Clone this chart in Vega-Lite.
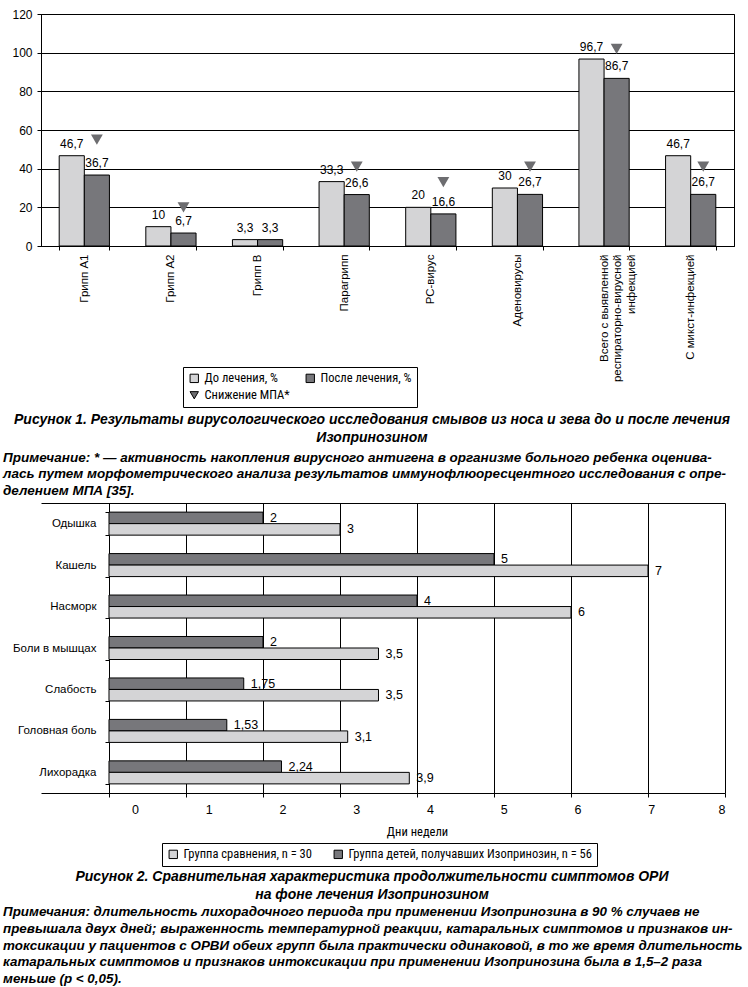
{
  "$schema": "https://vega.github.io/schema/vega-lite/v6.json",
  "background": "white",
  "padding": {"left": 3, "top": 7, "right": 0, "bottom": 0},
  "spacing": 3,
  "resolve": {"scale": {"color": "independent", "shape": "independent"}, "legend": {"color": "independent", "shape": "independent"}},
  "config": {
    "locale": {"number": {"decimal": ",", "thousands": " ", "grouping": [3], "currency": ["", ""]}},
    "font": "Liberation Sans",
    "view": {"stroke": "black", "strokeWidth": 1},
    "axis": {"domainColor": "black", "tickColor": "black", "gridColor": "black", "gridOpacity": 1, "gridWidth": 1, "labelColor": "black", "titleColor": "black", "labelFont": "Liberation Sans", "titleFont": "Liberation Sans Narrow, Noto Sans Condensed, Roboto Condensed, Liberation Sans", "titleFontWeight": "normal", "titleFontSize": 12.5, "labelFontSize": 12, "tickSize": 4},
    "legend": {"labelFont": "Liberation Sans Narrow, Noto Sans Condensed, Roboto Condensed, Liberation Sans", "labelFontSize": 12.5, "labelColor": "black", "strokeColor": "black", "padding": 5, "symbolStrokeColor": "black", "symbolStrokeWidth": 1, "symbolSize": 70, "labelLimit": 300},
    "title": {"font": "Liberation Sans", "fontSize": 14, "fontWeight": "bold", "fontStyle": "italic", "color": "black", "lineHeight": 18}
  },
  "vconcat": [
    {
      "width": 693,
      "height": 232,
      "data": {"values": [
        {"cat": "Грипп А1", "series": "До лечения, %", "grp": "До лечения, %", "value": 46.7},
        {"cat": "Грипп А1", "series": "После лечения, %", "grp": "После лечения, %", "value": 36.7},
        {"cat": "Грипп А1", "series": "Снижение МПА*", "grp": "После лечения, %", "value": 55},
        {"cat": "Грипп А2", "series": "До лечения, %", "grp": "До лечения, %", "value": 10},
        {"cat": "Грипп А2", "series": "После лечения, %", "grp": "После лечения, %", "value": 6.7},
        {"cat": "Грипп А2", "series": "Снижение МПА*", "grp": "После лечения, %", "value": 20},
        {"cat": "Грипп В", "series": "До лечения, %", "grp": "До лечения, %", "value": 3.3},
        {"cat": "Грипп В", "series": "После лечения, %", "grp": "После лечения, %", "value": 3.3},
        {"cat": "Парагрипп", "series": "До лечения, %", "grp": "До лечения, %", "value": 33.3},
        {"cat": "Парагрипп", "series": "После лечения, %", "grp": "После лечения, %", "value": 26.6},
        {"cat": "Парагрипп", "series": "Снижение МПА*", "grp": "После лечения, %", "value": 41},
        {"cat": "РС-вирус", "series": "До лечения, %", "grp": "До лечения, %", "value": 20},
        {"cat": "РС-вирус", "series": "После лечения, %", "grp": "После лечения, %", "value": 16.6},
        {"cat": "РС-вирус", "series": "Снижение МПА*", "grp": "После лечения, %", "value": 33},
        {"cat": "Аденовирусы", "series": "До лечения, %", "grp": "До лечения, %", "value": 30},
        {"cat": "Аденовирусы", "series": "После лечения, %", "grp": "После лечения, %", "value": 26.7},
        {"cat": "Аденовирусы", "series": "Снижение МПА*", "grp": "После лечения, %", "value": 41},
        {"cat": "Всего с выявленной респираторно-вирусной инфекцией", "series": "До лечения, %", "grp": "До лечения, %", "value": 96.7},
        {"cat": "Всего с выявленной респираторно-вирусной инфекцией", "series": "После лечения, %", "grp": "После лечения, %", "value": 86.7},
        {"cat": "Всего с выявленной респираторно-вирусной инфекцией", "series": "Снижение МПА*", "grp": "После лечения, %", "value": 102},
        {"cat": "С микст-инфекцией", "series": "До лечения, %", "grp": "До лечения, %", "value": 46.7},
        {"cat": "С микст-инфекцией", "series": "После лечения, %", "grp": "После лечения, %", "value": 26.7},
        {"cat": "С микст-инфекцией", "series": "Снижение МПА*", "grp": "После лечения, %", "value": 41}
      ]},
      "encoding": {
        "x": {
          "field": "cat", "type": "nominal",
          "sort": ["Грипп А1", "Грипп А2", "Грипп В", "Парагрипп", "РС-вирус", "Аденовирусы", "Всего с выявленной респираторно-вирусной инфекцией", "С микст-инфекцией"],
          "scale": {"paddingInner": 0.42, "paddingOuter": 0.21},
          "axis": {"title": null, "labelAngle": -90, "labelFontSize": 11.5, "labelPadding": 4, "tickBand": "extent", "grid": false, "labelLimit": 300,
                   "labelExpr": "indexof(datum.label, 'Всего') == 0 ? ['Всего с выявленной', 'респираторно-вирусной', 'инфекцией'] : datum.label"}
        },
        "xOffset": {"field": "grp", "sort": ["До лечения, %", "После лечения, %"]},
        "y": {
          "field": "value", "type": "quantitative",
          "scale": {"domain": [0, 120], "nice": false},
          "axis": {"title": null, "values": [0, 20, 40, 60, 80, 100, 120], "grid": true, "labelPadding": 5}
        }
      },
      "layer": [
        {
          "transform": [{"filter": {"field": "series", "oneOf": ["До лечения, %", "После лечения, %"]}}],
          "mark": {"type": "bar", "stroke": "black", "strokeWidth": 1},
          "encoding": {
            "color": {"field": "series", "type": "nominal",
              "scale": {"domain": ["До лечения, %", "После лечения, %", "Снижение МПА*"], "range": ["#d4d4d6", "#77777b", "#6d6d70"]},
              "legend": {"title": null, "orient": "none", "legendX": 142, "legendY": 353, "direction": "horizontal", "columns": 2, "columnPadding": 14, "rowPadding": 4}}
          }
        },
        {
          "transform": [{"filter": {"field": "series", "oneOf": ["До лечения, %", "После лечения, %"]}}],
          "mark": {"type": "text", "baseline": "bottom", "dy": -5, "fontSize": 12, "color": "black"},
          "encoding": {"text": {"field": "value", "type": "quantitative", "format": ".4~g"}}
        },
        {
          "transform": [{"filter": {"field": "series", "equal": "Снижение МПА*"}}],
          "mark": {"type": "point", "filled": true, "size": 140, "opacity": 1},
          "encoding": {
            "color": {"field": "series", "type": "nominal",
              "scale": {"domain": ["До лечения, %", "После лечения, %", "Снижение МПА*"], "range": ["#d4d4d6", "#77777b", "#6d6d70"]},
              "legend": {"title": null, "orient": "none", "legendX": 142, "legendY": 353, "direction": "horizontal", "columns": 2, "columnPadding": 14, "rowPadding": 4}},
            "shape": {"field": "series", "type": "nominal",
              "scale": {"domain": ["До лечения, %", "После лечения, %", "Снижение МПА*"], "range": ["square", "square", "triangle-down"]},
              "legend": {"title": null, "orient": "none", "legendX": 142, "legendY": 353, "direction": "horizontal", "columns": 2, "columnPadding": 14, "rowPadding": 4}}
          }
        }
      ]
    },
    {
      "width": 662,
      "height": {"step": 18},
      "view": {"stroke": null},
      "data": {"values": [
        {"n": 1, "t": "Рисунок 1. Результаты вирусологического исследования смывов из носа и зева до и после лечения"},
        {"n": 2, "t": "Изопринозином"}
      ]},
      "mark": {"type": "text", "align": "center", "baseline": "middle", "font": "Liberation Sans", "fontSize": 14, "fontWeight": "bold", "fontStyle": "italic", "color": "black"},
      "encoding": {
        "y": {"field": "n", "type": "ordinal", "axis": null},
        "text": {"field": "t"}
      }
    },
    {
      "width": 684,
      "height": 290,
      "view": {"stroke": null},
      "title": {
        "text": ["Примечание: * — активность накопления вирусного антигена в организме больного ребенка оценива-", "лась путем морфометрического анализа результатов иммунофлюоресцентного исследования с опре-", "делением МПА [35]."],
        "anchor": "start", "frame": "group", "align": "left", "dx": -38, "offset": 0, "fontSize": 13.5, "lineHeight": 16.5
      },
      "data": {"values": [
        {"symptom": "Одышка", "group": "Группа детей, получавших Изопринозин, n = 56", "value": 2},
        {"symptom": "Одышка", "group": "Группа сравнения, n = 30", "value": 3},
        {"symptom": "Кашель", "group": "Группа детей, получавших Изопринозин, n = 56", "value": 5},
        {"symptom": "Кашель", "group": "Группа сравнения, n = 30", "value": 7},
        {"symptom": "Насморк", "group": "Группа детей, получавших Изопринозин, n = 56", "value": 4},
        {"symptom": "Насморк", "group": "Группа сравнения, n = 30", "value": 6},
        {"symptom": "Боли в мышцах", "group": "Группа детей, получавших Изопринозин, n = 56", "value": 2},
        {"symptom": "Боли в мышцах", "group": "Группа сравнения, n = 30", "value": 3.5},
        {"symptom": "Слабость", "group": "Группа детей, получавших Изопринозин, n = 56", "value": 1.75},
        {"symptom": "Слабость", "group": "Группа сравнения, n = 30", "value": 3.5},
        {"symptom": "Головная боль", "group": "Группа детей, получавших Изопринозин, n = 56", "value": 1.53},
        {"symptom": "Головная боль", "group": "Группа сравнения, n = 30", "value": 3.1},
        {"symptom": "Лихорадка", "group": "Группа детей, получавших Изопринозин, n = 56", "value": 2.24},
        {"symptom": "Лихорадка", "group": "Группа сравнения, n = 30", "value": 3.9}
      ]},
      "encoding": {
        "y": {
          "field": "symptom", "type": "nominal",
          "sort": ["Одышка", "Кашель", "Насморк", "Боли в мышцах", "Слабость", "Головная боль", "Лихорадка"],
          "scale": {"paddingInner": 0.445, "paddingOuter": 0.22},
          "axis": {"title": null, "tickBand": "extent", "labelPadding": 9, "grid": false, "labelFontSize": 11.5, "offset": -68}
        },
        "yOffset": {"field": "group", "sort": ["Группа детей, получавших Изопринозин, n = 56", "Группа сравнения, n = 30"]}
      },
      "layer": [
        {
          "layer": [
            {
              "mark": {"type": "bar", "stroke": "black", "strokeWidth": 1},
              "encoding": {
                "x": {"field": "value", "type": "quantitative", "scale": {"domain": [-0.8831, 8], "nice": false},
                  "axis": {"orient": "bottom", "values": [0, 1, 2, 3, 4, 5, 6, 7, 8], "grid": true, "labels": false, "domain": true, "title": null}},
                "color": {"field": "group", "type": "nominal",
                  "scale": {"domain": ["Группа сравнения, n = 30", "Группа детей, получавших Изопринозин, n = 56"], "range": ["#d4d4d6", "#77777b"]},
                  "legend": {"title": null, "orient": "none", "legendX": 121, "legendY": 340, "direction": "horizontal", "columns": 2, "columnPadding": 20, "symbolType": "square"}}
              }
            },
            {
              "mark": {"type": "text", "align": "left", "baseline": "middle", "dx": 7, "fontSize": 12.5, "color": "black"},
              "encoding": {
                "x": {"field": "value", "type": "quantitative", "scale": {"domain": [-0.8831, 8], "nice": false}},
                "text": {"field": "value", "type": "quantitative", "format": ".4~g"}
              }
            }
          ]
        },
        {
          "mark": {"type": "point", "opacity": 0},
          "encoding": {
            "x": {"field": "value", "type": "quantitative", "scale": {"domain": [-1.2746, 8], "nice": false, "zero": false},
              "axis": {"orient": "bottom", "values": [0, 1, 2, 3, 4, 5, 6, 7, 8], "grid": false, "ticks": false, "domain": false, "labelPadding": 10, "labelFontSize": 12.5, "title": "Дни недели", "titlePadding": 10, "titleX": 376}}
          }
        },
        {
          "mark": {"type": "point", "opacity": 0},
          "encoding": {
            "x": {"field": "value", "type": "quantitative", "scale": {"domain": [-0.8831, 8], "nice": false},
              "axis": {"orient": "top", "grid": false, "ticks": false, "labels": false, "domain": true, "title": null}}
          }
        }
      ],
      "resolve": {"scale": {"x": "independent"}}
    },
    {
      "width": 662,
      "height": {"step": 16.6},
      "view": {"stroke": null},
      "title": {"text": ["Рисунок 2. Сравнительная характеристика продолжительности симптомов ОРИ", "на фоне лечения Изопринозином"], "anchor": "middle", "frame": "group", "offset": 2},
      "data": {"values": [
        {"n": 1, "t": "Примечания: длительность лихорадочного периода при применении Изопринозина в 90 % случаев не"},
        {"n": 2, "t": "превышала двух дней; выраженность температурной реакции, катаральных симптомов и признаков ин-"},
        {"n": 3, "t": "токсикации у пациентов с ОРВИ обеих групп была практически одинаковой, в то же время длительность"},
        {"n": 4, "t": "катаральных симптомов и признаков интоксикации при применении Изопринозина была в 1,5–2 раза"},
        {"n": 5, "t": "меньше (p < 0,05)."}
      ]},
      "mark": {"type": "text", "align": "left", "baseline": "middle", "dx": -38, "font": "Liberation Sans", "fontSize": 13.4, "fontWeight": "bold", "fontStyle": "italic", "color": "black"},
      "encoding": {
        "y": {"field": "n", "type": "ordinal", "axis": null},
        "x": {"value": 0},
        "text": {"field": "t"}
      }
    }
  ]
}
